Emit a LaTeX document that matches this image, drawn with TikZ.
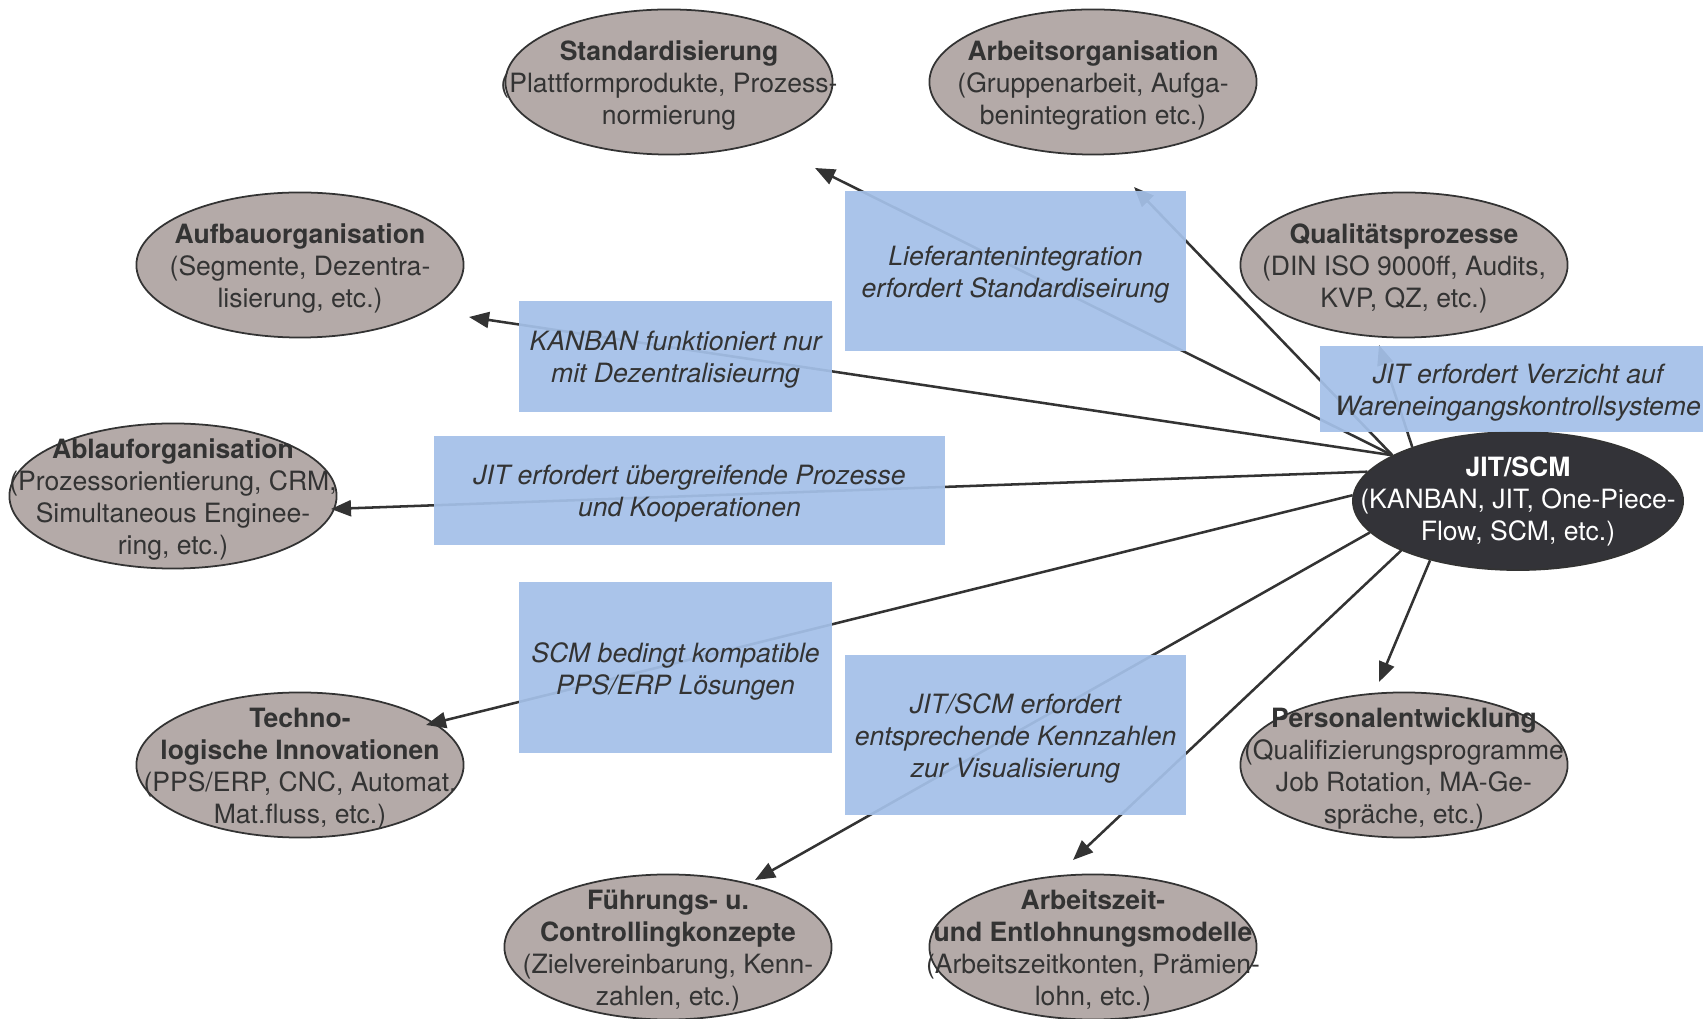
\documentclass[tikz,border=0pt]{standalone}
\usepackage{fontspec}
\setmainfont{TeX Gyre Heros}
\usetikzlibrary{shapes.geometric,arrows.meta}
\definecolor{ovalfill}{HTML}{B4AAA8}
\definecolor{inkgray}{HTML}{333333}
\definecolor{hubfill}{HTML}{333338}
\definecolor{boxblue}{HTML}{A4C0E8}
\newcommand{\diagfont}{\fontsize{7.55pt}{9.1pt}\selectfont}
\tikzset{
  oval/.style={ellipse, draw=inkgray, line width=0.5pt, fill=ovalfill,
    minimum width=3.27cm, minimum height=1.45cm, inner sep=0pt},
  hubnode/.style={oval, fill=hubfill, minimum width=3.3cm, minimum height=1.38cm},
  ovaltext/.style={align=center, text=inkgray, font=\diagfont, inner sep=0pt,
    yshift=-0.038cm},
  hubtext/.style={align=center, text=white, font=\diagfont, inner sep=0pt},
  note/.style={rectangle, fill=boxblue, fill opacity=0.93, inner sep=0pt},
  notetext/.style={align=center, text=inkgray, font=\diagfont\itshape,
    inner sep=0pt, yshift=-0.035cm},
  link/.style={draw=inkgray, line width=0.72pt,
    -{Triangle[length=0.2cm, width=0.16cm]}}
}
\begin{document}
\begin{tikzpicture}[x=0.01cm, y=-0.01cm]
\useasboundingbox (0,0) rectangle (1703,1019);
\clip (0,0) rectangle (1703,1019);

% topic ellipses
\node[oval] (std)  at (669,82)   {};
\node[oval] (arb)  at (1093,82)  {};
\node[oval] (aufb) at (300,265)  {};
\node[oval] (qual) at (1404,265) {};
\node[oval] (abl)  at (173,496)  {};
\node[oval] (tech) at (300,765)  {};
\node[oval] (pers) at (1404,765) {};
\node[oval] (fue)  at (668,947)  {};
\node[oval] (az)   at (1093,947) {};
\node[hubnode] (jit) at (1518,501) {};

\node[ovaltext] at (std)  {\textbf{Standardisierung}\\(Plattformprodukte, Prozess-\\normierung};
\node[ovaltext] at (arb)  {\textbf{Arbeitsorganisation}\\(Gruppenarbeit, Aufga-\\benintegration etc.)};
\node[ovaltext] at (aufb) {\textbf{Aufbauorganisation}\\(Segmente, Dezentra-\\lisierung, etc.)};
\node[ovaltext] at (qual) {\textbf{Qualitätsprozesse}\\(DIN ISO 9000ff, Audits,\\KVP, QZ, etc.)};
\node[ovaltext] at (abl)  {\textbf{Ablauforganisation}\\(Prozessorientierung, CRM,\\Simultaneous Enginee-\\ring, etc.)};
\node[ovaltext] at (tech) {\textbf{Techno-}\\\textbf{logische Innovationen}\\(PPS/ERP, CNC, Automat.\\Mat.fluss, etc.)};
\node[ovaltext] at (pers) {\textbf{Personalentwicklung}\\(Qualifizierungsprogramme\\Job Rotation, MA-Ge-\\spräche, etc.)};
\node[ovaltext] at (fue)  {\textbf{Führungs- u.}\\\textbf{Controllingkonzepte}\\(Zielvereinbarung, Kenn-\\zahlen, etc.)};
\node[ovaltext] at (az)   {\textbf{Arbeitszeit-}\\\textbf{und Entlohnungsmodelle}\\(Arbeitszeitkonten, Prämien-\\lohn, etc.)};
\node[hubtext] at (jit)   {\textbf{JIT/SCM}\\(KANBAN, JIT, One-Piece-\\Flow, SCM, etc.)};

% arrow tips
\coordinate (tStd)  at (815,168);
\coordinate (tArb)  at (1134,187);
\coordinate (tQual) at (1379,345);
\coordinate (tAufb) at (469,317);
\coordinate (tAbl)  at (331,509);
\coordinate (tTech) at (426,725);
\coordinate (tFue)  at (755,880);
\coordinate (tAz)   at (1073,860);
\coordinate (tPers) at (1379,682);

% connectors from JIT/SCM
\draw[link] (jit.160) -- (tStd);
\draw[link] (jit.160) -- (tArb);
\draw[link] (jit.160) -- (tAufb);
\draw[link] (jit.153) -- (tQual);
\draw[link] (jit.169) -- (tAbl);
\draw[link] (jit.178) -- (tTech);
\draw[link] (jit.192) -- (tFue);
\draw[link] (jit.203) -- (tAz);
\draw[link] (jit.214) -- (tPers);

% explanation boxes
\node[note, minimum width=3.41cm, minimum height=1.60cm] (lief)  at (1015.5,271) {};
\node[note, minimum width=3.13cm, minimum height=1.11cm] (kanb)  at (675.5,356.5) {};
\node[note, minimum width=3.96cm, minimum height=0.86cm] (verz)  at (1518,389) {};
\node[note, minimum width=5.11cm, minimum height=1.09cm] (uebg)  at (689.5,490.5) {};
\node[note, minimum width=3.13cm, minimum height=1.71cm] (scm)   at (675.5,667.5) {};
\node[note, minimum width=3.41cm, minimum height=1.60cm] (kennz) at (1015.5,735) {};

\node[notetext] at (lief)  {Lieferantenintegration\\erfordert Standardiseirung};
\node[notetext] at (kanb)  {KANBAN funktioniert nur\\mit Dezentralisieurng};
\node[notetext] at (verz)  {JIT erfordert Verzicht auf\\Wareneingangskontrollsysteme};
\node[notetext] at (uebg)  {JIT erfordert übergreifende Prozesse\\und Kooperationen};
\node[notetext] at (scm)   {SCM bedingt kompatible\\PPS/ERP Lösungen};
\node[notetext] at (kennz) {JIT/SCM erfordert\\entsprechende Kennzahlen\\zur Visualisierung};
\end{tikzpicture}
\end{document}
